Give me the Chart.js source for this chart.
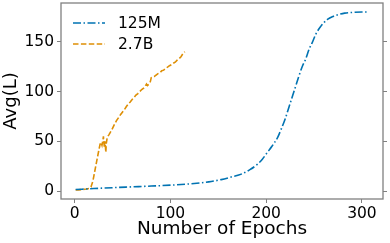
<!DOCTYPE html>
<html>
<head>
<meta charset="utf-8">
<script src="https://cdn.jsdelivr.net/npm/chart.js@4"></script>
<style>
  html, body { margin: 0; padding: 0; background: #fff; }
  canvas { display: block; }
</style>
</head>
<body>
<canvas id="lossChart" width="390" height="243"></canvas>
<script>
const epochs125M = [1, 20, 40, 60, 80, 100, 120, 140, 153, 165, 174, 183, 191, 196, 201, 206, 212, 216, 220, 224, 227, 231, 234, 238, 241, 245, 248, 252, 257, 260, 264, 270, 276, 282, 290, 300, 307];
const avg125M = [1.5, 2.5, 3.4, 4.2, 5, 5.9, 7.2, 9.2, 11.5, 14.5, 17, 21.5, 27, 32, 38.5, 45, 54, 63, 73, 85, 94, 106, 115, 126, 132, 143, 149, 158, 165.5, 169, 172.5, 175.5, 177.5, 178.8, 179.5, 180, 180];

const epochs27B = [1, 4, 8, 12, 15, 17, 19, 21, 23, 25, 26.5, 27.5, 28.5, 29.5, 30, 30.5, 31, 31.5, 32, 32.5, 33, 34, 36, 38.5, 41, 43.5, 46, 48, 50, 52, 54, 56, 58, 60, 62, 64, 66, 68, 70, 72, 74, 75, 76, 77, 78, 79, 80, 81, 83, 85, 87, 89, 91, 93, 95, 97, 99, 101, 103, 105, 107, 109, 111, 113, 115];
const avg27B = [1, 1.2, 1.5, 2, 2.5, 4, 10, 20, 30, 40, 47, 49, 46, 51, 55, 49, 44, 50, 46, 39, 48, 54, 57, 61, 66, 70.5, 74, 77, 79.5, 82, 85, 87.5, 89.5, 92, 94, 96.5, 98, 100, 102, 103.5, 106, 107.5, 106, 107, 108, 110, 114, 114.5, 115, 116.5, 118, 119, 121, 121.5, 123.5, 124.5, 126, 127, 128.5, 129.5, 131.5, 133, 135, 138, 140];

const seriesLabels = ["125M", "2.7B"];
const xTicks = [0, 100, 200, 300];
const yTicks = [0, 50, 100, 150];

const frameColor = "#808080";
const fontFamily = "'DejaVu Sans', sans-serif";

function toPoints(xs, ys) {
  return xs.map((x, i) => ({ x: x, y: ys[i] }));
}

function fixedTicks(values) {
  return (scale) => {
    scale.ticks = values.map((v) => ({ value: v }));
  };
}

function fitSize(prop, size) {
  return (scale) => {
    scale[prop] = size;
    scale.paddingTop = 0;
    scale.paddingBottom = 0;
    scale.paddingLeft = 0;
    scale.paddingRight = 0;
  };
}

const framePlugin = {
  id: "frame",
  afterDatasetsDraw(chart) {
    const { ctx, chartArea } = chart;
    ctx.save();
    ctx.strokeStyle = frameColor;
    ctx.lineWidth = 1.3;
    ctx.strokeRect(chartArea.left, chartArea.top, chartArea.right - chartArea.left, chartArea.bottom - chartArea.top);
    ctx.restore();
  },
};

const insideLegend = {
  id: "insideLegend",
  afterDatasetsDraw(chart) {
    const { ctx, chartArea } = chart;
    ctx.save();
    chart.data.datasets.forEach((ds, i) => {
      const y = chartArea.top + 20 + i * 21;
      ctx.beginPath();
      ctx.setLineDash(ds.borderDash);
      ctx.strokeStyle = ds.borderColor;
      ctx.lineWidth = ds.borderWidth;
      ctx.moveTo(chartArea.left + 12, y);
      ctx.lineTo(chartArea.left + 44, y);
      ctx.stroke();
      ctx.setLineDash([]);
      ctx.fillStyle = "#000";
      ctx.font = "15.5px " + fontFamily;
      ctx.textBaseline = "middle";
      ctx.fillText(ds.label, chartArea.left + 57, y + 1);
    });
    ctx.restore();
  },
};

const tickGrid = {
  display: true,
  drawOnChartArea: false,
  drawTicks: true,
  tickLength: 4,
  tickColor: frameColor,
  tickWidth: 1,
};

new Chart(document.getElementById("lossChart"), {
  type: "line",
  data: {
    datasets: [
      {
        label: seriesLabels[0],
        data: toPoints(epochs125M, avg125M),
        borderColor: "#0173b2",
        borderWidth: 1.6,
        borderDash: [8, 2.5, 1.5, 2.5],
        cubicInterpolationMode: "monotone",
        pointRadius: 0,
        fill: false,
      },
      {
        label: seriesLabels[1],
        data: toPoints(epochs27B, avg27B),
        borderColor: "#de8f05",
        borderWidth: 1.6,
        borderDash: [5.5, 2.4],
        tension: 0,
        pointRadius: 0,
        fill: false,
      },
    ],
  },
  options: {
    responsive: false,
    animation: false,
    devicePixelRatio: 1,
    layout: { padding: { top: 3, left: 0, right: 0, bottom: 0 } },
    plugins: { legend: { display: false }, tooltip: { enabled: false } },
    scales: {
      x: {
        type: "linear",
        min: -14.3,
        max: 322,
        afterBuildTicks: fixedTicks(xTicks),
        afterFit: fitSize("height", 44),
        grid: tickGrid,
        border: { display: false },
        ticks: { color: "#000", padding: 2, maxRotation: 0, font: { family: fontFamily, size: 15.5 } },
        title: { display: true, text: "Number of Epochs", color: "#000", padding: { top: 0, bottom: 3 }, font: { family: fontFamily, size: 18.5 } },
      },
      y: {
        type: "linear",
        position: "left",
        min: -8,
        max: 189,
        afterBuildTicks: fixedTicks(yTicks),
        afterFit: fitSize("width", 61),
        grid: tickGrid,
        border: { display: false },
        ticks: { color: "#000", padding: 3, font: { family: fontFamily, size: 15.5 } },
        title: { display: true, text: "Avg(L)", color: "#000", padding: { top: 1, bottom: 0 }, font: { family: fontFamily, size: 18 } },
      },
      y2: {
        type: "linear",
        position: "right",
        min: -8,
        max: 189,
        afterBuildTicks: fixedTicks(yTicks),
        afterFit: fitSize("width", 7),
        grid: tickGrid,
        border: { display: false },
        ticks: { callback: () => "", padding: 0 },
      },
    },
  },
  plugins: [framePlugin, insideLegend],
});
</script>
</body>
</html>
